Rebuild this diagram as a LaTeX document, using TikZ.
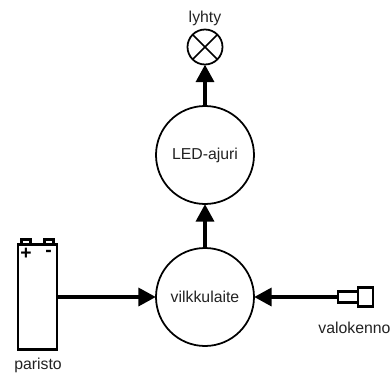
\documentclass[tikz,border=0pt]{standalone}
\usepackage{fontspec}
\setmainfont{Liberation Sans}
\usepackage{xcolor}
\usetikzlibrary{calc,arrows.meta,positioning}
\definecolor{inkc}{HTML}{000000}
\definecolor{txtc}{HTML}{222222}
\tikzset{
  ar/.style={-{Triangle[length=10pt,width=10pt]},line width=2.5pt,inkc},
  blk/.style={circle,draw=inkc,line width=1pt,minimum size=98*0.02cm,inner sep=0pt,outer sep=0pt,font=\fontsize{9}{10}\selectfont,text=txtc},
  lamp/.style={circle,draw=inkc,line width=1pt,minimum size=35*0.02cm,inner sep=0pt,outer sep=0pt},
  part/.style={rectangle,draw=inkc,line width=1.25pt,inner sep=0pt,outer sep=0pt},
  lbl/.style={font=\fontsize{9}{10}\selectfont,text=txtc,inner sep=0pt},
  sgn/.style={font=\bfseries\fontsize{11}{12}\selectfont,text=inkc,inner sep=0pt}
}
\begin{document}
\begin{tikzpicture}[x=0.02cm,y=-0.02cm]
\useasboundingbox (0,0) rectangle (392,372);
% blocks
\node[blk] (vilkku) at (205,297) {vilkkulaite};
\node[blk] (ajuri) at (205,155) {LED-ajuri};
\node[lamp] (lyhty) at (205,47) {};
\draw[inkc,line width=1pt] (lyhty.north west)--(lyhty.south east) (lyhty.north east)--(lyhty.south west);
\node[lbl] (lyhtyt) at (205,18) {lyhty};
% battery
\node[part,minimum width=39*0.02cm,minimum height=105*0.02cm] (paristo) at (37.5,297) {};
\node[part,minimum width=9*0.02cm,minimum height=5*0.02cm,anchor=south] (plus) at (26,244.5) {};
\node[part,minimum width=9*0.02cm,minimum height=5*0.02cm,anchor=south] (miinus) at (49,244.5) {};
\node[sgn] (plusm) at (26,254) {+};
\node[sgn] (miinusm) at (48.5,253) {-};
\node[lbl] (paristot) at (38,365) {paristo};
% photocell
\node[part,minimum width=15*0.02cm,minimum height=19*0.02cm] (kenno) at (365.5,297) {};
\node[part,minimum width=20*0.02cm,minimum height=11*0.02cm,anchor=east] (kanta) at (kenno.west) {};
\node[lbl] (kennot) at (354.5,328) {valokenno};
% arrows
\draw[ar] (vilkku)--(ajuri);
\draw[ar] (ajuri)--(lyhty);
\draw[ar] (paristo.east)--(vilkku.west);
\draw[ar] (kanta.west)--(vilkku.east);
\end{tikzpicture}
\end{document}
